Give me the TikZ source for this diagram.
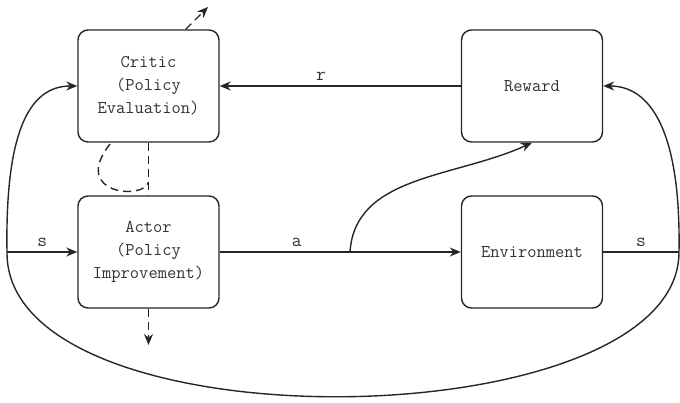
\documentclass[tikz,border=0pt]{standalone}
\usepackage{fontspec}
\setmonofont{Latin Modern Mono}
\usetikzlibrary{arrows.meta}
\begin{document}
\begin{tikzpicture}[x=1pt,y=-1pt,
  ink/.style={draw=black!85, line width=1.4pt},
  blockbox/.style={ink, rounded corners=10pt, minimum width=141pt, minimum height=112pt,
    align=center, font=\ttfamily\fontsize{18}{23}\selectfont, text=black!80, inner sep=0pt},
  lbl/.style={font=\ttfamily\fontsize{19}{20}\selectfont, text=black!80},
  tip/.style={-{Stealth[length=11pt,width=9pt]}},
  dashline/.style={ink, dash pattern=on 8pt off 5pt}]
\useasboundingbox (0,0) rectangle (680,402);

% blocks
\node[blockbox] (critic) at (148.5,86) {Critic\\(Policy\\Evaluation)};
\node[blockbox] (actor) at (148.5,252) {Actor\\(Policy\\Improvement)};
\node[blockbox] (reward) at (532,86) {Reward};
\node[blockbox] (env) at (532,252) {Environment};

% junction points
\coordinate (sl) at (7,252);
\coordinate (sr) at (679,252);
\coordinate (ab) at (350,252);
\coordinate (cout) at (208,7);
\coordinate (aout) at (148.5,345);
\coordinate (loopa) at (110,144);
\coordinate (loopb) at (148.5,182);

% reward to critic
\draw[ink,tip] (reward.west) -- node[lbl, above=1pt, pos=0.58] {r} (critic.east);
% actor to environment, with branch to reward
\draw[ink,tip] (actor.east) -- node[lbl, above=1pt, pos=0.32] {a} (env.west);
\draw[ink,tip] (ab) .. controls (355,175) and (455,178) .. (reward.south);
% state out of environment
\draw[ink] (env.east) -- node[lbl, above=1pt] {s} (sr);
\draw[ink,tip] (sr) .. controls (681,130) and (650,86) .. (reward.east);
\draw[ink] (sr) .. controls (679,440) and (5,450) .. (sl);
% state into actor and critic
\draw[ink,tip] (sl) -- node[lbl, above=1pt] {s} (actor.west);
\draw[ink,tip] (sl) .. controls (5,130) and (30,86) .. (critic.west);

% dashed links
\draw[dashline,tip] (critic.north east) ++(-34,0) -- (cout);
\draw[dashline] (critic.south) -- (actor.north);
\draw[dashline] (loopa) .. controls (70,195) and (145,200) .. (loopb);
\draw[dashline,tip] (actor.south) -- (aout);
\end{tikzpicture}
\end{document}
